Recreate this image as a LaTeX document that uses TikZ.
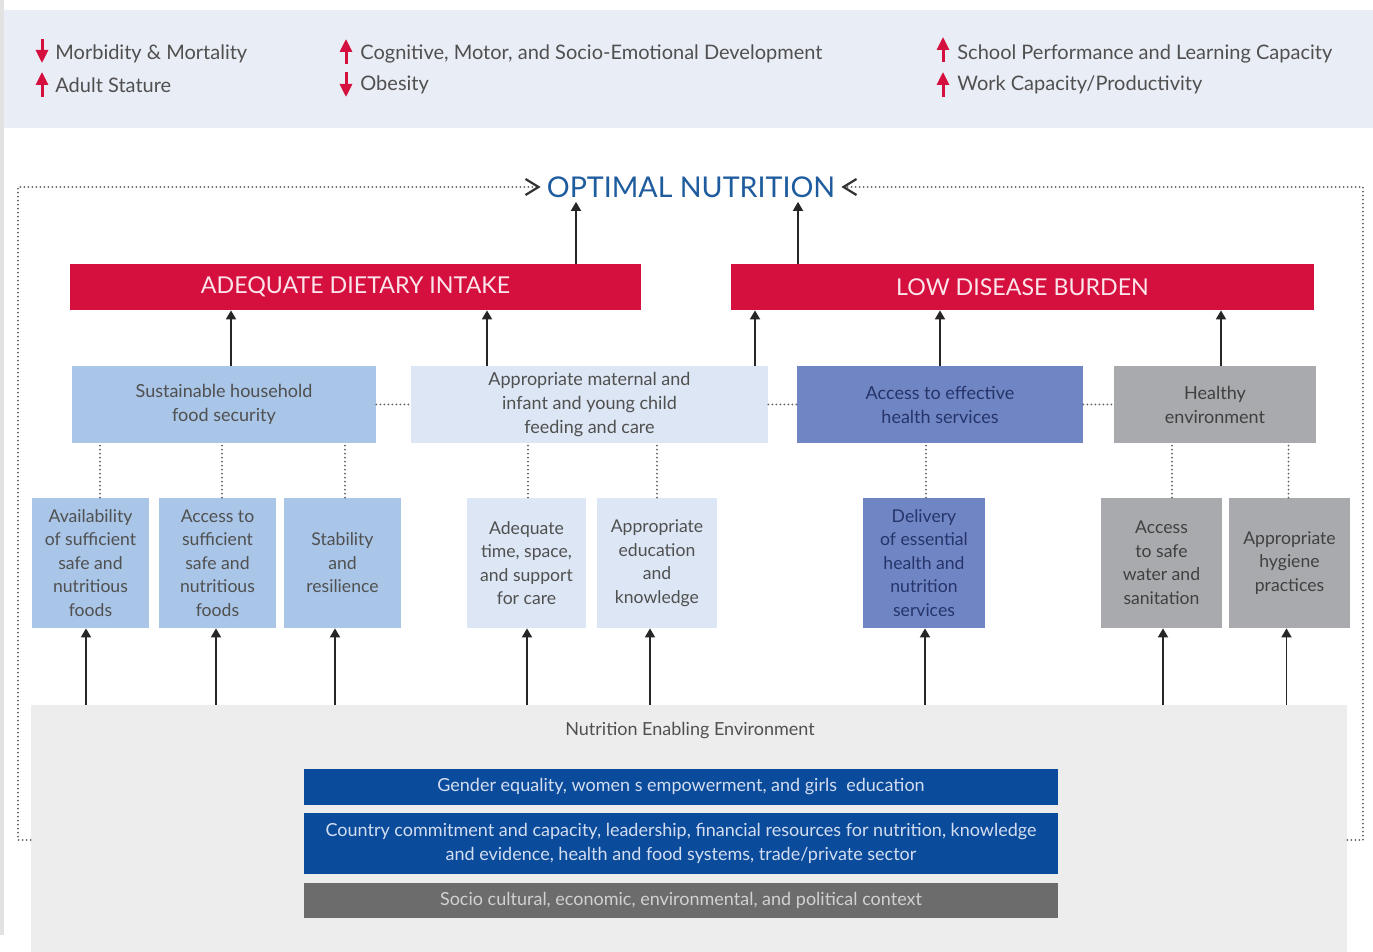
\documentclass[tikz,border=0pt]{standalone}
\usepackage{fontspec}
\setmainfont{Lato}
\usetikzlibrary{arrows.meta,calc}
\definecolor{bannerbg}{HTML}{E9EDF5}
\definecolor{crimson}{HTML}{D5103F}
\definecolor{lblue}{HTML}{A9C5E7}
\definecolor{vlblue}{HTML}{DCE6F4}
\definecolor{peri}{HTML}{7086C4}
\definecolor{gbox}{HTML}{A8AAAD}
\definecolor{envbg}{HTML}{EDEDED}
\definecolor{navy}{HTML}{0A4B9B}
\definecolor{dgray}{HTML}{6C6C6C}
\definecolor{optblue}{HTML}{1E5C9E}
\definecolor{txt}{HTML}{505050}
\definecolor{peritxt}{HTML}{26346A}
\definecolor{redtxt}{HTML}{FCE4EA}
\definecolor{bartxt}{HTML}{D3DDF0}
\definecolor{strip}{HTML}{E2E2E2}
\begin{document}
\begin{tikzpicture}[x=0.5pt,y=-0.5pt,
  sz/.style 2 args={minimum width=#1*0.5pt, minimum height=#2*0.5pt},
  box/.style={inner sep=0pt, align=center, text=txt},
  midtext/.style={font=\fontsize{9pt}{12pt}\selectfont},
  lowtext/.style={font=\fontsize{8.8pt}{11.75pt}\selectfont},
  redbox/.style={inner sep=0pt, fill=crimson, text=redtxt, font=\fontsize{11.6pt}{13pt}\selectfont},
  barbox/.style={inner sep=0pt, align=center, text=bartxt, font=\fontsize{9pt}{12pt}\selectfont},
  bantext/.style={anchor=west, inner sep=0pt, text=txt, font=\fontsize{10pt}{12pt}\selectfont},
  arr/.style={draw=black!85, line width=0.9pt, -{Triangle[width=5pt,length=4.5pt]}},
  dotline/.style={draw=black!62, line width=1pt, dash pattern=on 0pt off 2pt, line cap=round},
  redarr/.style={draw=crimson, line width=1.5pt, -{Triangle[width=6pt,length=6.5pt]}},
  barb/.style={draw=black!80, line width=1.1pt}
]
\useasboundingbox (0,0) rectangle (1373,952);
\fill[white] (0,0) rectangle (1373,952);
\fill[strip] (0,0) rectangle (4,935);
% banner
\fill[bannerbg] (4,10) rectangle (1373,128);
\draw[redarr] (42,39) -- (42,63);
\draw[redarr] (42,97) -- (42,72);
\draw[redarr] (346,64) -- (346,39);
\draw[redarr] (346,72) -- (346,97);
\draw[redarr] (943,62) -- (943,37);
\draw[redarr] (943,97) -- (943,72);
\node[bantext] (b1) at (55,54) {Morbidity \& Mortality};
\node[bantext] (b2) at (55,85) {Adult Stature};
\node[bantext] (b3) at (360,54) {Cognitive, Motor, and Socio-Emotional Development};
\node[bantext] (b4) at (360,85) {Obesity};
\node[bantext] (b5) at (957,54) {School Performance and Learning Capacity};
\node[bantext] (b6) at (957,85) {Work Capacity/Productivity};
% optimal nutrition
\node[inner sep=2pt, text=optblue, font=\fontsize{14.3pt}{16pt}\selectfont] (on) at (691,187) {OPTIMAL NUTRITION};
% red boxes
\node[redbox, sz={571}{46}] (adi) at (355.5,287) {ADEQUATE DIETARY INTAKE};
\node[redbox, sz={583}{46}] (ldb) at (1022.5,287) {LOW DISEASE BURDEN};
% middle boxes
\node[box, midtext, fill=lblue, sz={304}{77}] (shfs) at (224,404.5) {Sustainable household\\food security};
\node[box, midtext, fill=vlblue, sz={357}{77}] (mat) at (589.5,404.5) {Appropriate maternal and\\infant and young child\\feeding and care};
\node[box, midtext, fill=peri, text=peritxt, sz={286}{77}] (aeh) at (940,404.5) {Access to effective\\health services};
\node[box, midtext, fill=gbox, text=black!75, sz={202}{77}] (he) at (1215,404.5) {Healthy\\environment};
% lower boxes
\node[box, lowtext, fill=lblue, sz={117}{130}] (avail) at (90.5,563) {Availability\\of sufficient\\safe and\\nutritious\\foods};
\node[box, lowtext, fill=lblue, sz={117}{130}] (acc) at (217.5,563) {Access to\\sufficient\\safe and\\nutritious\\foods};
\node[box, lowtext, fill=lblue, sz={117}{130}] (stab) at (342.5,563) {Stability\\and\\resilience};
\node[box, lowtext, fill=vlblue, sz={119}{130}] (time) at (526.5,563) {Adequate\\time, space,\\and support\\for care};
\node[box, lowtext, fill=vlblue, sz={120}{130}] (educ) at (657,563) {Appropriate\\education\\and\\knowledge};
\node[box, lowtext, fill=peri, text=peritxt, sz={122}{130}] (deliv) at (924,563) {Delivery\\of essential\\health and\\nutrition\\services};
\node[box, lowtext, fill=gbox, text=black!75, sz={121}{130}] (water) at (1161.5,563) {Access\\to safe\\water and\\sanitation};
\node[box, lowtext, fill=gbox, text=black!75, sz={121}{130}] (hyg) at (1289.5,563) {Appropriate\\hygiene\\practices};
% enabling environment
\node[inner sep=0pt, fill=envbg, sz={1316}{247}] (env) at (689,828.5) {};
\node[inner sep=0pt, text=txt, font=\fontsize{9pt}{12pt}\selectfont] (envt) at (690,731) {Nutrition Enabling Environment};
\node[barbox, fill=navy, sz={754}{36}] (gen) at (681,787) {Gender equality, women s empowerment, and girls\ \ education};
\node[barbox, fill=navy, sz={754}{61}] (ctry) at (681,843.5) {Country commitment and capacity, leadership, financial resources for nutrition, knowledge\\and evidence, health and food systems, trade/private sector};
\node[barbox, fill=dgray, text=black!18, sz={754}{35}] (soc) at (681,900.5) {Socio cultural, economic, environmental, and political context};
% dotted feedback loop
\coordinate (cbl) at (18,840);
\coordinate (ctl) at (18,187);
\coordinate (cbr) at (1363,840);
\coordinate (ctr) at (1363,187);
\draw[dotline] (cbl -| env.west) -- (cbl) -- (ctl) -- ([xshift=-3pt]on.west);
\draw[dotline] (cbr -| env.east) -- (cbr) -- (ctr) -- ([xshift=3pt]on.east);
\draw[barb] ([xshift=-8.5pt,yshift=4pt]on.west) -- ([xshift=-2pt]on.west) -- ([xshift=-8.5pt,yshift=-4pt]on.west);
\draw[barb] ([xshift=8.5pt,yshift=4pt]on.east) -- ([xshift=2pt]on.east) -- ([xshift=8.5pt,yshift=-4pt]on.east);
% horizontal dotted links
\draw[dotline] (shfs.east) -- (mat.west);
\draw[dotline] (mat.east) -- (aeh.west);
\draw[dotline] (aeh.east) -- (he.west);
% vertical dotted links
\draw[dotline] ([xshift=4.75pt]avail.north) -- ([xshift=4.75pt]avail.north |- shfs.south);
\draw[dotline] ([xshift=2.25pt]acc.north) -- ([xshift=2.25pt]acc.north |- shfs.south);
\draw[dotline] ([xshift=1.25pt]stab.north) -- ([xshift=1.25pt]stab.north |- shfs.south);
\draw[dotline] ([xshift=0.75pt]time.north) -- ([xshift=0.75pt]time.north |- mat.south);
\draw[dotline] (educ.north) -- (educ.north |- mat.south);
\draw[dotline] ([xshift=1pt]deliv.north) -- ([xshift=1pt]deliv.north |- aeh.south);
\draw[dotline] ([xshift=5.25pt]water.north) -- ([xshift=5.25pt]water.north |- he.south);
\draw[dotline] ([xshift=-0.5pt]hyg.north) -- ([xshift=-0.5pt]hyg.north |- he.south);
% arrows middle -> red
\draw[arr] ([xshift=3.5pt]shfs.north) -- ([xshift=3.5pt]shfs.north |- adi.south);
\draw[arr] ([xshift=-51.25pt]mat.north) -- ([xshift=-51.25pt]mat.north |- adi.south);
\draw[arr] ([xshift=82.75pt]mat.north) -- ([xshift=82.75pt]mat.north |- ldb.south);
\draw[arr] (aeh.north) -- (aeh.north |- ldb.south);
\draw[arr] ([xshift=3pt]he.north) -- ([xshift=3pt]he.north |- ldb.south);
% arrows red -> optimal
\draw[arr] ([xshift=110.25pt]adi.north) -- ([xshift=110.25pt]adi.north |- on.south);
\draw[arr] ([xshift=-112.25pt]ldb.north) -- ([xshift=-112.25pt]ldb.north |- on.south);
% arrows env -> lower boxes
\draw[arr] ([xshift=-2.25pt]avail.south |- env.north) -- ([xshift=-2.25pt]avail.south);
\draw[arr] ([xshift=-0.75pt]acc.south |- env.north) -- ([xshift=-0.75pt]acc.south);
\draw[arr] ([xshift=-3.75pt]stab.south |- env.north) -- ([xshift=-3.75pt]stab.south);
\draw[arr] ([xshift=0.25pt]time.south |- env.north) -- ([xshift=0.25pt]time.south);
\draw[arr] ([xshift=-3.5pt]educ.south |- env.north) -- ([xshift=-3.5pt]educ.south);
\draw[arr] ([xshift=0.5pt]deliv.south |- env.north) -- ([xshift=0.5pt]deliv.south);
\draw[arr] ([xshift=0.75pt]water.south |- env.north) -- ([xshift=0.75pt]water.south);
\draw[arr] ([xshift=-1.5pt]hyg.south |- env.north) -- ([xshift=-1.5pt]hyg.south);
\end{tikzpicture}
\end{document}
